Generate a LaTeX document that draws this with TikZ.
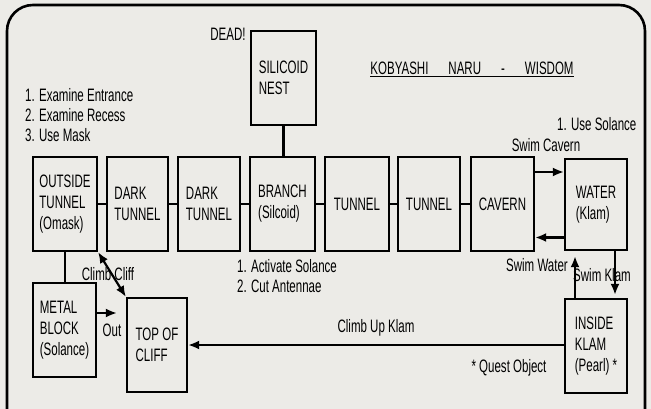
\documentclass[tikz,border=0pt]{standalone}
\usepackage{fontspec}
\setmainfont{Liberation Sans}[FakeStretch=0.64]
\usetikzlibrary{arrows.meta}
\definecolor{bg}{RGB}{236,235,231}
\begin{document}
\begin{tikzpicture}[x=1pt,y=-1pt,
  font=\fontsize{18pt}{21pt}\selectfont,
  box/.style={draw, line width=2.2pt, inner sep=0pt, align=left, minimum height=94pt},
  lbl/.style={inner sep=0pt, align=left},
  link/.style={line width=2.2pt},
  arr/.style={line width=2.2pt, -{Latex[length=11pt,width=9pt]}},
  darr/.style={line width=2.2pt, {Latex[length=11pt,width=9pt]}-{Latex[length=11pt,width=9pt]}}]
\useasboundingbox (0,0) rectangle (651,409);
\clip (0,0) rectangle (651,409);
\fill[bg] (0,0) rectangle (651,409);
% frame
\draw[line width=2.6pt, rounded corners=26pt] (7,430) -- (7,5) -- (645,5) -- (645,430);
% boxes
\node[box, minimum width=65pt] (nest) at (283.5,78) {SILICOID\\NEST};
\node[box, minimum width=64pt] (out) at (65,204) {OUTSIDE\\TUNNEL\\(Omask)};
\node[box, minimum width=61pt] (dark1) at (137.5,204) {DARK\\TUNNEL};
\node[box, minimum width=62pt] (dark2) at (209,204) {DARK\\TUNNEL};
\node[box, minimum width=65pt] (branch) at (282.5,204) {BRANCH\\(Silcoid)};
\node[box, minimum width=64pt] (tun1) at (357,204) {TUNNEL};
\node[box, minimum width=62pt] (tun2) at (429,204) {TUNNEL};
\node[box, minimum width=63pt] (cav) at (502.5,204) {CAVERN};
\node[box, minimum width=62pt, minimum height=91pt] (water) at (596,204.5) {WATER\\(Klam)};
\node[box, minimum width=63pt] (metal) at (64.5,330) {METAL\\BLOCK\\(Solance)};
\node[box, minimum width=60pt] (top) at (157,345) {TOP OF\\CLIFF};
\node[box, minimum width=62pt] (inside) at (596,346) {INSIDE\\KLAM\\(Pearl) *};
% plain links
\draw[link] (nest.south) -- (nest.south |- branch.north);
\draw[link] (out.east) -- (dark1.west);
\draw[link] (dark1.east) -- (dark2.west);
\draw[link] (dark2.east) -- (branch.west);
\draw[link] (branch.east) -- (tun1.west);
\draw[link] (tun1.east) -- (tun2.west);
\draw[link] (tun2.east) -- (cav.west);
\draw[link] (out.south) -- (metal.north -| out.south);
% arrows
\draw[arr] ([yshift=32pt]cav.east) -- ([yshift=32pt]cav.east -| water.west);
\draw[arr] ([yshift=-33pt]water.west) -- ([yshift=-33pt]water.west -| cav.east);
\draw[arr, shorten >=5pt] ([xshift=-21pt]inside.north) -- ([xshift=-21pt]inside.north |- water.south);
\draw[arr, shorten >=3pt] ([xshift=19pt]water.south) -- ([xshift=19pt]water.south |- inside.north);
\draw[arr] (inside.west |- top.east) -- (top.east);
\draw[arr, shorten >=9pt] ([yshift=17pt]metal.east) -- ([yshift=17pt]metal.east -| top.west);
\draw[darr] (out.south east) -- (top.north west);
% labels
\node[lbl] (dead) at (228,34) {DEAD!};
\node[lbl, anchor=west] (ex1) at (25,95) {1. Examine Entrance};
\node[lbl, anchor=west] (ex2) at (25,115) {2. Examine Recess};
\node[lbl, anchor=west] (ex3) at (25,135) {3. Use Mask};
\node[lbl] (title) at (472,69) {\underline{KOBYASHI\hspace{20pt}NARU\hspace{20pt}-\hspace{20pt}WISDOM}};
\node[lbl, anchor=west] (sol) at (557,124) {1. Use Solance};
\node[lbl] (swc) at (546,145) {Swim Cavern};
\node[lbl] (sww) at (537,265) {Swim Water};
\node[lbl] (swk) at (602,275) {Swim Klam};
\node[lbl, anchor=west] (act) at (237,266) {1. Activate Solance};
\node[lbl, anchor=west] (cut) at (237,286) {2. Cut Antennae};
\node[lbl] (climb) at (108,274) {Climb Cliff};
\node[lbl] (outl) at (112,330) {Out};
\node[lbl] (cuk) at (376,328) {Climb Up Klam};
\node[lbl] (quest) at (509,368) {* Quest Object};
\end{tikzpicture}
\end{document}
